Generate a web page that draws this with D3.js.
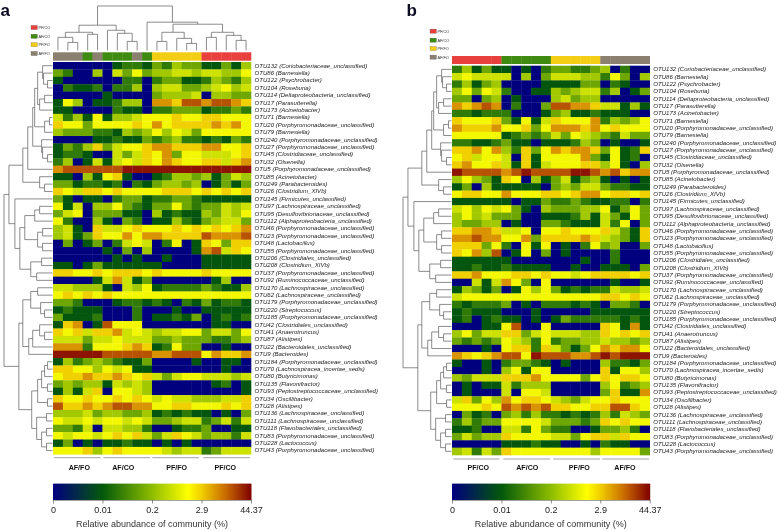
<!DOCTYPE html>
<html><head><meta charset="utf-8">
<script src="https://cdnjs.cloudflare.com/ajax/libs/d3/7.8.5/d3.min.js"></script>
<style>html,body{margin:0;padding:0;background:#fff}svg{display:block;filter:blur(.3px)}text{font-family:"Liberation Sans",Arial,sans-serif}</style>
</head><body><svg id="c" width="778" height="531"></svg>
<script>
const otuLabels=["OTU132 (Coriobacteriaceae_unclassified)","OTU86 (Barnesiella)","OTU122 (Psychrobacter)","OTU104 (Roseburia)","OTU114 (Deltaproteobacteria_unclassified)","OTU17 (Parasutterella)","OTU173 (Acinetobacter)","OTU71 (Barnesiella)","OTU20 (Porphyromonadaceae_unclassified)","OTU79 (Barnesiella)","OTU240 (Porphyromonadaceae_unclassified)","OTU27 (Porphyromonadaceae_unclassified)","OTU45 (Clostridiaceae_unclassified)","OTU32 (Olsenella)","OTU5 (Porphyromonadaceae_unclassified)","OTU85 (Acinetobacter)","OTU249 (Parabacteroides)","OTU26 (Clostridium_XIVb)","OTU145 (Firmicutes_unclassified)","OTU97 (Lachnospiraceae_unclassified)","OTU95 (Desulfovibrionaceae_unclassified)","OTU112 (Alphaproteobacteria_unclassified)","OTU46 (Porphyromonadaceae_unclassified)","OTU23 (Porphyromonadaceae_unclassified)","OTU48 (Lactobacillus)","OTU55 (Porphyromonadaceae_unclassified)","OTU206 (Clostridiales_unclassified)","OTU208 (Clostridium_XIVb)","OTU37 (Porphyromonadaceae_unclassified)","OTU92 (Ruminococcaceae_unclassified)","OTU170 (Lachnospiraceae_unclassified)","OTU62 (Lachnospiraceae_unclassified)","OTU179 (Porphyromonadaceae_unclassified)","OTU220 (Streptococcus)","OTU185 (Porphyromonadaceae_unclassified)","OTU42 (Clostridiales_unclassified)","OTU41 (Anaerotruncus)","OTU87 (Alistipes)","OTU22 (Bacteroidales_unclassified)","OTU9 (Bacteroides)","OTU184 (Porphyromonadaceae_unclassified)","OTU70 (Lachnospiracea_incertae_sedis)","OTU80 (Butyricimonas)","OTU135 (Flavonifractor)","OTU93 (Peptostreptococcaceae_unclassified)","OTU34 (Oscillibacter)","OTU28 (Alistipes)","OTU136 (Lachnospiraceae_unclassified)","OTU111 (Lachnospiraceae_unclassified)","OTU118 (Flavobacteriales_unclassified)","OTU83 (Porphyromonadaceae_unclassified)","OTU228 (Lactococcus)","OTU43 (Porphyromonadaceae_unclassified)"];
// cell values: abundance class 0..10
const cellsA=[
[0,0,0,0,0,0,1,2,2,1,3,2,4,3,3,1,1,3,1,4],[3,2,0,0,4,0,5,3,6,3,4,4,5,5,4,5,5,4,4,6],[1,0,0,0,0,0,0,2,2,0,2,3,3,1,1,2,4,3,2,4],[0,2,1,1,2,0,2,2,4,0,4,5,5,3,3,4,5,6,4,5],[0,0,0,0,0,1,0,0,0,0,3,4,4,4,5,0,4,4,3,3],
[1,6,4,0,1,1,2,4,4,0,8,8,7,9,9,8,9,9,8,7],[1,1,0,0,0,0,2,1,1,0,2,2,3,3,3,1,2,2,3,2],[5,2,4,1,6,1,4,4,5,6,6,6,7,6,6,7,7,6,6,6],[7,6,6,3,6,6,6,6,7,6,8,6,7,7,7,7,8,7,8,6],[4,3,3,3,2,2,1,4,3,4,6,4,6,5,3,6,6,6,6,6],
[0,0,0,0,1,1,2,1,1,3,2,3,4,2,2,1,2,1,3,2],[1,3,2,4,7,3,5,6,6,7,8,8,7,7,7,8,8,6,6,7],[1,2,2,1,0,0,5,3,5,7,6,8,3,6,6,5,5,5,6,7],[2,4,0,1,5,1,5,6,5,7,6,8,7,6,6,7,7,5,7,8],[8,9,9,9,9,9,9,10,10,10,10,10,10,10,10,10,10,10,10,10],
[1,1,0,4,1,6,7,1,0,0,1,2,4,4,3,4,1,3,5,4],[3,3,1,2,2,1,2,0,2,1,3,4,4,3,4,0,1,3,1,3],[7,6,5,7,7,6,7,6,6,6,6,7,7,7,6,7,6,7,6,7],[3,1,0,1,1,0,2,3,3,1,2,2,3,3,2,1,1,1,1,1],[6,1,5,0,4,4,6,3,2,1,3,3,6,3,2,3,3,5,4,5],
[3,5,6,0,3,3,3,1,1,0,4,1,2,1,1,4,3,5,4,6],[6,2,0,0,4,1,0,3,2,0,1,1,4,2,1,3,4,5,5,3],[4,5,1,0,7,5,5,6,7,6,6,6,7,6,7,6,7,6,7,8],[4,5,1,3,7,6,6,8,6,8,8,7,7,7,7,9,8,8,8,9],[0,3,0,1,3,0,2,5,6,5,0,2,6,0,1,7,6,3,7,7],
[0,0,0,0,0,1,0,3,0,4,0,0,0,0,1,8,9,5,7,6],[0,0,0,0,0,0,1,0,1,0,0,1,0,0,0,1,1,1,1,1],[1,1,0,1,3,1,1,1,1,1,1,0,0,0,0,1,1,1,1,1],[7,7,6,6,7,6,7,7,7,6,7,6,6,6,6,7,6,6,6,6],[0,0,0,0,1,5,8,5,1,3,0,0,0,0,0,0,1,4,0,0],
[5,5,4,4,4,1,0,5,4,6,1,2,2,2,2,3,2,1,1,4],[6,7,6,7,6,7,6,6,6,6,6,6,6,6,6,6,6,6,6,6],[3,3,2,0,0,0,1,2,2,1,2,1,0,2,1,3,1,2,2,1],[1,2,1,1,1,0,0,0,2,0,0,0,1,0,0,1,1,1,1,1],[3,1,1,1,2,0,0,0,2,0,1,1,2,1,3,0,1,2,1,2],
[1,7,8,0,1,9,6,6,6,0,0,0,0,0,0,0,1,1,0,0],[7,6,7,5,7,7,8,5,6,5,4,5,5,6,6,3,5,5,3,6],[5,5,5,3,5,5,6,5,5,5,3,3,4,3,3,3,2,2,3,4],[8,8,8,2,6,6,6,7,8,7,1,2,6,3,3,0,0,1,0,0],[10,10,10,10,10,9,9,9,9,9,8,8,9,9,9,6,8,7,7,8],
[1,4,2,3,4,3,2,1,1,3,0,0,0,0,1,0,0,1,1,0],[7,7,6,6,4,6,5,6,1,1,0,0,0,0,0,0,0,1,0,0],[6,7,7,8,7,7,8,7,6,7,5,3,5,6,6,5,5,5,4,5],[3,4,3,4,4,1,5,4,5,4,0,0,0,0,0,0,1,2,0,1],[1,4,1,5,7,0,6,6,5,4,0,0,0,0,0,0,0,0,0,1],
[7,6,6,7,6,6,7,6,7,6,5,6,5,5,4,4,4,5,5,7],[9,7,7,8,7,8,9,9,8,8,6,6,7,7,6,6,6,7,6,7],[4,4,4,5,3,4,4,3,3,4,1,2,1,2,1,1,0,1,0,3],[6,5,5,6,5,6,6,5,6,5,3,3,4,5,5,2,3,5,2,5],[3,3,2,5,0,5,5,4,4,2,0,0,1,2,2,3,0,0,1,1],
[6,5,6,6,5,6,7,6,7,5,3,5,7,6,5,3,4,4,2,5],[1,3,0,1,0,1,1,2,1,1,0,1,0,1,0,0,0,0,0,0],[6,6,6,7,4,6,7,6,6,6,6,5,4,5,5,2,3,5,5,5]];
const cellsB=[
[2,4,1,3,1,1,0,1,0,2,3,3,2,2,3,4,0,2,0,0],[5,6,5,5,5,5,0,4,0,3,5,5,5,4,4,2,6,3,0,4],[2,4,1,3,4,0,0,0,0,1,1,1,1,3,3,0,2,1,0,0],[4,6,3,6,5,2,0,0,1,1,4,3,4,5,5,2,4,0,1,3],[3,3,0,3,4,0,1,0,0,0,4,5,3,4,4,0,0,0,0,0],
[8,7,8,9,8,0,2,0,0,3,9,9,8,8,7,5,5,1,4,1],[2,2,1,2,2,2,0,0,0,1,3,4,1,1,2,1,1,1,0,0],[7,6,6,6,7,3,1,6,1,5,7,6,6,6,8,2,4,3,4,6],[8,7,7,7,8,6,6,7,3,6,8,8,8,7,8,6,7,6,6,6],[6,6,6,6,6,1,2,3,2,3,5,3,6,5,4,3,2,5,3,3],
[2,2,1,1,2,3,1,1,0,1,1,1,2,4,3,0,1,0,0,1],[7,7,8,6,8,4,2,7,3,6,8,7,8,8,7,3,6,1,2,7],[6,7,5,6,6,5,0,7,1,6,6,6,6,8,3,1,6,1,2,0],[7,8,6,6,7,5,1,7,1,5,6,6,6,7,7,4,6,1,0,4],[10,9,9,9,9,8,9,10,9,9,9,9,10,10,9,8,9,7,8,8],
[4,6,4,3,1,7,6,0,4,1,3,5,1,3,4,1,0,1,0,1],[1,3,0,4,1,1,1,1,1,0,3,4,3,5,5,3,2,2,1,1],[6,7,7,6,6,8,6,6,6,7,7,6,7,8,8,6,7,7,6,7],[1,1,1,1,1,1,0,1,1,3,2,2,3,2,1,1,2,2,0,2],[5,6,4,6,5,6,3,1,0,4,3,3,3,4,4,6,1,3,6,3],
[4,6,4,5,3,3,3,0,0,1,1,1,2,4,1,5,3,1,6,3],[4,3,3,4,4,0,1,0,0,3,3,2,1,1,1,5,2,6,0,3],[7,7,8,8,7,5,5,6,0,6,6,7,6,6,6,7,5,3,1,7],[8,8,9,8,8,6,6,8,3,7,7,7,7,8,7,5,4,3,1,7],[7,7,7,3,6,2,0,6,1,6,0,1,0,2,6,3,4,0,0,3],
[7,6,8,4,9,0,1,6,0,3,0,1,0,0,0,0,2,0,0,0],[1,1,1,1,1,1,0,0,0,0,0,0,0,1,0,0,2,0,0,0],[1,1,2,1,1,2,1,1,1,1,0,0,1,0,0,1,1,1,0,3],[7,7,8,6,6,6,7,7,6,7,6,6,5,6,7,7,7,7,6,7],[0,0,5,1,5,8,6,3,0,6,0,0,0,0,0,0,1,0,0,1],
[1,4,3,1,3,0,1,6,4,6,3,1,2,1,2,2,5,4,4,5],[5,6,6,6,6,6,6,6,6,6,6,6,6,6,6,7,7,6,7,6],[2,1,2,2,2,3,0,1,0,2,2,2,1,2,1,0,3,3,2,0],[1,2,1,1,1,0,0,0,1,0,0,0,0,0,1,1,1,1,1,1],[1,2,0,1,2,1,1,0,1,0,1,3,2,2,2,2,2,1,2,1],
[0,0,0,1,1,6,9,0,0,6,0,0,0,0,0,7,6,1,8,1],[4,6,3,5,5,7,7,3,5,6,5,5,5,4,4,7,6,7,6,7],[3,2,3,2,3,6,5,4,2,6,2,3,3,4,4,5,4,4,3,4],[0,0,0,1,0,6,7,7,2,7,5,3,1,3,6,8,7,8,8,6],[8,7,6,7,8,9,9,6,10,9,9,9,8,8,9,10,9,10,10,10],
[1,0,0,1,0,2,3,3,2,1,0,1,0,0,0,4,2,2,1,3],[0,0,0,1,0,4,6,1,6,6,0,0,0,0,0,7,1,6,6,4],[4,3,5,5,5,7,7,7,8,6,6,6,6,3,6,7,6,7,7,6],[0,1,0,1,1,5,2,4,4,4,0,0,0,0,0,4,6,2,3,4],[0,1,0,0,0,5,0,6,6,5,0,0,0,0,0,3,7,1,1,8],
[5,7,3,6,4,8,6,7,7,6,5,4,3,5,6,6,7,6,6,6],[6,6,6,7,6,9,8,9,8,9,7,7,6,6,7,7,9,9,7,6],[0,3,1,2,0,3,4,2,4,2,2,1,2,1,2,4,2,5,4,3],[2,4,2,3,3,6,6,6,6,5,3,3,3,2,3,7,6,7,6,6],[1,1,2,0,0,5,5,2,6,3,2,2,0,0,1,3,3,4,2,0],
[3,5,3,4,4,7,6,6,6,6,5,5,3,6,7,7,5,7,6,6],[0,0,0,0,0,1,1,1,2,1,1,0,0,1,0,2,1,1,0,0],[4,5,2,5,3,7,6,6,6,6,6,6,6,6,4,6,6,6,6,3]];
// class -> position along colour bar
const classPosition=[0,.24,.33,.44,.53,.6,.66,.745,.82,.9,.975];
const barPositions=[0,.25,.5,.68,.75,.87,1];
const barColors=["#00007f","#045a0a","#8fbe00","#ffff00","#f0cc00","#c86a00","#7f0000"];
const tickLabels=["0","0.01","0.2","2.9","44.37"];
const groupNames=["PF/CO","AF/CO","PF/FO","AF/FO"];
const groupColors=["#e8403c","#3f8a10","#f3ce15","#8b8070"];
const stripA=[3,3,3,1,3,1,1,1,3,1,2,2,2,2,2,0,0,0,0,0];
const stripB=[0,0,0,0,0,1,1,1,1,1,2,2,2,2,2,3,3,3,3,3];
// dendrograms: [merge height, child, child]; a number is a leaf index
const rowTree=[49,[44,[30,[25,[20,[18,[15,[10,0,[9,1,[5,2,3]]],[13,[8,4,5],6]],[8,[3,7,8],9]],[11,10,[10,11,[5,12,13]]]],14],[13,15,[8,16,17]]],
 [38,18,[33,[28,[18,[13,19,20],21],[15,[10,22,23],[10,24,25]]],[22,[11,26,27],[16,28,29]]]]],
 [34,[30,[22,[15,30,31],[12,32,[8,33,34]]],[24,[20,[13,35,[8,36,37]],38],39]],
 [21,[15,[11,[8,[5,40,41],42],[5,43,44]],[5,45,46]],[16,[6,47,48],[11,[6,49,50],[6,51,52]]]]]];
const colTreeA=[44,[25,[18,[13,0,[8,1,2]],[16,3,4]],[20,5,[17,6,[9,7,8]]]],[28,9,[26,[18,[9,10,11],[12,12,[7,13,14]]],[18,[13,15,16],[15,17,[10,18,19]]]]]];
const groupLabelsA=[["AF/FO",79.3,162,302],["AF/CO",123.3,310,450],["PF/FO",176.7,457,597],["PF/CO",225.3,610,750]];
const groupLabelsB=[["PF/CO",478.3,190,328],["AF/CO",527.3,340,480],["PF/FO",579.3,490,630],["AF/FO",625,637,777]];

const svg=d3.select("#c");
const barColor=d3.scaleLinear().domain(barPositions).range(barColors);
const INK="#5a5a5a";

function dendro(g,tree,place){
  const root=d3.hierarchy(tree,n=>Array.isArray(n)?n.slice(1):null);
  root.eachAfter(n=>{
    if(n.children){n.h=n.data[0];n.p=d3.mean([n.children[0].p,n.children[1].p]);}
    else{n.h=0;n.p=n.data;}
  });
  g.selectAll("path").data(root.descendants().filter(n=>n.children)).join("path")
    .attr("fill","none").attr("stroke",INK).attr("stroke-width",.7)
    .attr("d",n=>{
      const [a,b]=n.children,p=d3.path();
      p.moveTo(...place(a.p,a.h));p.lineTo(...place(a.p,n.h));p.lineTo(...place(b.p,n.h));p.lineTo(...place(b.p,b.h));
      return p.toString();
    });
}

function panel(o){
  const g=svg.append("g");
  const cols=d3.range(20),rows=d3.range(otuLabels.length);
  const x=d3.scaleBand().domain(cols).range([o.x0,o.x1]);
  const y=d3.scaleBand().domain(rows).range([o.y0,o.y1]);
  g.append("text").text(o.letter).attr("x",o.letterX).attr("y",15.6).attr("font-size",17).attr("font-weight",700).attr("fill","#0b0b22");
  // legend
  const lg=g.append("g").selectAll("g").data(o.legendY).join("g");
  lg.append("rect").attr("x",o.legendX).attr("y",d=>d[1]-2.2).attr("width",6.4).attr("height",4.2).attr("fill",d=>groupColors[d[0]]).attr("stroke","#555").attr("stroke-width",.25);
  lg.append("text").text(d=>groupNames[d[0]]).attr("x",o.legendX+7.4).attr("y",d=>d[1]+1.5).attr("font-size",3.9).attr("fill","#333");
  // strip
  g.append("g").selectAll("rect").data(o.strip).join("rect").attr("x",(d,i)=>x(i)).attr("y",o.stripY[0]).attr("width",x.bandwidth()+.3).attr("height",o.stripY[1]-o.stripY[0]).attr("fill",d=>groupColors[d]);
  // cells
  g.append("g").selectAll("g").data(o.cells).join("g").selectAll("rect").data((r,i)=>r.map((v,j)=>({v,i,j}))).join("rect")
    .attr("x",d=>x(d.j)).attr("y",d=>y(d.i)).attr("width",x.bandwidth()+.3).attr("height",y.bandwidth()+.3)
    .attr("fill",d=>barColor(classPosition[d.v]));
  // labels
  g.append("g").selectAll("text").data(otuLabels).join("text").text(d=>d)
    .attr("x",o.x1+3.6).attr("y",(d,i)=>y(i)+y.bandwidth()/2+1.9).attr("font-size",6.05).attr("font-style","italic").attr("fill","#222");
  // row tree
  const rowH=d3.scaleLinear().domain([0,49]).range([o.x0-.5,o.x0-49]);
  dendro(g.append("g"),rowTree,(p,h)=>[rowH(h),y(0)+y.step()*(p+.5)]);
  // column tree
  if(o.colTree){
    const colH=d3.scaleLinear().domain([0,44]).range([50.5,6]);
    dendro(g.append("g"),o.colTree,(p,h)=>[x(0)+x.step()*(p+.5),colH(h)]);
  }
  // group bars and titles
  const gl=g.append("g").selectAll("g").data(o.groups).join("g");
  gl.append("line").attr("x1",d=>o.groupBase+d[2]/3).attr("x2",d=>o.groupBase+d[3]/3).attr("y1",o.groupBarY).attr("y2",o.groupBarY).attr("stroke","#999").attr("stroke-width",.9);
  gl.append("text").text(d=>d[0]).attr("x",d=>d[1]).attr("y",470.3).attr("text-anchor","middle").attr("font-size",7.1).attr("font-weight",700).attr("fill","#111");
  // colour bar
  const bar=d3.scaleLinear().domain([0,1]).range([o.x0,o.x1]);
  g.append("g").selectAll("rect").data(d3.range(0,1,1/198)).join("rect").attr("x",d=>bar(d)).attr("y",483.7).attr("width",1.5).attr("height",16.3).attr("fill",d=>barColor(d));
  const tick=d3.scalePoint().domain(tickLabels).range([o.x0,o.x1]);
  const ax=g.append("g").attr("transform","translate(0,500)").call(d3.axisBottom(tick).tickSize(3.5).tickSizeOuter(0));
  ax.select(".domain").attr("stroke","#444").attr("stroke-width",.5);
  ax.selectAll(".tick line").attr("stroke","#444").attr("stroke-width",.6);
  ax.selectAll(".tick text").attr("font-size",9).attr("font-family","Liberation Sans").attr("fill","#222").attr("dy",0).attr("y",12.8);
  g.append("text").text("Relative abundance of community (%)").attr("x",(o.x0+o.x1)/2).attr("y",527).attr("text-anchor","middle").attr("font-size",9).attr("fill","#333");
}

panel({letter:"a",letterX:0.5,x0:53,x1:251,y0:62,y1:454.3,cells:cellsA,strip:stripA,stripY:[52.3,60.7],colTree:colTreeA,
  legendX:31,legendY:[[0,27.6],[1,36.4],[2,44.8],[3,53.6]],groups:groupLabelsA,groupBase:0,groupBarY:457.7});
panel({letter:"b",letterX:406.5,x0:452,x1:649.7,y0:65.7,y1:455,cells:cellsB,strip:stripB,stripY:[56,64],colTree:null,
  legendX:430,legendY:[[0,31.3],[1,40.3],[2,48.6],[3,57.3]],groups:groupLabelsB,groupBase:390,groupBarY:459});
</script></body></html>
